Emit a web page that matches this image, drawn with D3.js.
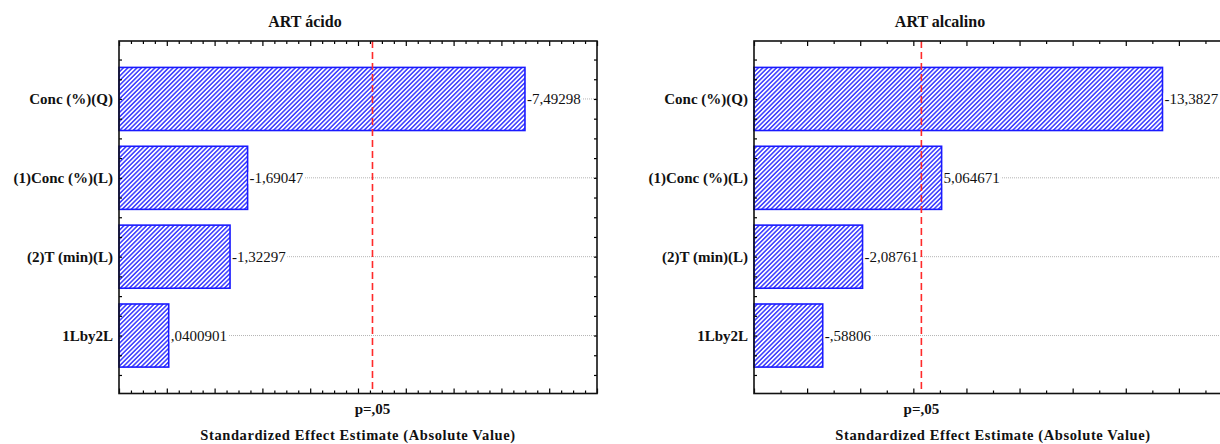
<!DOCTYPE html>
<html>
<head>
<meta charset="utf-8">
<script src="https://cdn.jsdelivr.net/npm/d3@7"></script>
<style>
  html, body { margin: 0; padding: 0; background: #fff; }
  svg { display: block; font-family: "Liberation Serif", "Times New Roman", serif; }
</style>
</head>
<body>
<svg id="chart" width="1220" height="444"></svg>
<script>
// Pareto charts of standardized effects (two response models)
const effects = ["Conc (%)(Q)", "(1)Conc (%)(L)", "(2)T (min)(L)", "1Lby2L"];
const acidValues = [-7.49298, -1.69047, -1.32297, 0.0400901];
const alkValues = [-13.3827, 5.064671, -2.08761, -0.58806];
const panelTitles = ["ART ácido", "ART alcalino"];
const critT = 4.303;           // t critical value, p = .05
const critLabel = "p=,05";
const xLabel = "Standardized Effect Estimate (Absolute Value)";
const acidDomain = [-1, 9];
const alkDomain = [-2, 16];
const acidTicks = { major: 1, minor: 0.25 };
const alkTicks = { major: 2, minor: 1 };

const svg = d3.select("#chart");

// pattern for hatched bars
const defs = svg.append("defs");
const pat = defs.append("pattern")
  .attr("id", "hatch")
  .attr("patternUnits", "userSpaceOnUse")
  .attr("width", 3.2).attr("height", 3.2)
  .attr("patternTransform", "rotate(45)");
pat.append("rect").attr("width", 3.2).attr("height", 3.2).attr("fill", "#fff");
pat.append("line").attr("x1", 0.8).attr("y1", 0).attr("x2", 0.8).attr("y2", 3.2)
  .attr("stroke", "#1a1aff").attr("stroke-width", 1.3);

// comma decimal, no leading zero
function fmt(v) {
  return String(v).replace(/^(-?)0\./, "$1.").replace(".", ",");
}

function rangeSteps(lo, hi, step) {
  const out = [];
  const n = Math.round((hi - lo) / step);
  for (let i = 0; i <= n; i++) out.push(+(lo + i * step).toFixed(6));
  return out;
}

function drawPanel(offsetX, title, values, domain, tickCfg) {
  const left = 119, right = 597, top = 41, bottom = 393.5;
  const g = svg.append("g").attr("transform", `translate(${offsetX},0)`);

  const x = d3.scaleLinear().domain(domain).range([left, right]);
  const pad = 0.735;
  const y = d3.scaleLinear().domain([1 - pad, effects.length + pad]).range([top, bottom]);
  const barH = y(1.8) - y(1);

  // horizontal dotted grid at each effect
  g.append("g").selectAll("line").data(effects).join("line")
    .attr("x1", left).attr("x2", right)
    .attr("y1", (d, i) => y(i + 1)).attr("y2", (d, i) => y(i + 1))
    .attr("stroke", "#b4b4b4").attr("stroke-width", 1)
    .attr("stroke-dasharray", "1,1");

  // bars (absolute effects) from the axis origin
  g.append("g").selectAll("rect").data(values).join("rect")
    .attr("x", x(domain[0]))
    .attr("y", (d, i) => y(i + 1) - barH / 2)
    .attr("width", d => x(Math.abs(d)) - x(domain[0]))
    .attr("height", barH)
    .attr("fill", "url(#hatch)")
    .attr("stroke", "#1a1aff").attr("stroke-width", 1.6);

  // value labels with white backing over the grid
  const vl = g.append("g").selectAll("g").data(values).join("g")
    .attr("transform", (d, i) => `translate(${x(Math.abs(d)) + 2},${y(i + 1)})`);
  vl.append("text")
    .attr("dy", "0.35em")
    .attr("font-size", 15)
    .attr("fill", "#111")
    .text(d => fmt(d));
  vl.each(function () {
    const t = d3.select(this).select("text").node();
    const b = t.getBBox();
    d3.select(this).insert("rect", "text")
      .attr("x", b.x - 1).attr("y", b.y + 2).attr("width", b.width + 2).attr("height", b.height - 4)
      .attr("fill", "#fff");
  });

  // significance line
  g.append("line")
    .attr("x1", x(critT)).attr("x2", x(critT))
    .attr("y1", top).attr("y2", bottom)
    .attr("stroke", "#ff2a2a").attr("stroke-width", 1.6)
    .attr("stroke-dasharray", "7,4");

  // inward ticks on all four sides
  const majors = rangeSteps(domain[0], domain[1], tickCfg.major);
  const minors = rangeSteps(domain[0], domain[1], tickCfg.minor).filter(v => !majors.some(m => Math.abs(m - v) < 1e-6));
  const tickStyle = sel => {
    sel.select(".domain").remove();
    sel.selectAll(".tick line").attr("stroke", "#000").attr("stroke-width", 1.2);
    sel.selectAll(".tick text").remove();
  };
  g.append("g").attr("transform", `translate(0,${bottom})`)
    .call(d3.axisBottom(x).tickValues(majors).tickSize(-5).tickFormat("")).call(tickStyle);
  g.append("g").attr("transform", `translate(0,${bottom})`)
    .call(d3.axisBottom(x).tickValues(minors).tickSize(-3).tickFormat("")).call(tickStyle);
  g.append("g").attr("transform", `translate(0,${top})`)
    .call(d3.axisTop(x).tickValues(majors).tickSize(-5).tickFormat("")).call(tickStyle);
  g.append("g").attr("transform", `translate(0,${top})`)
    .call(d3.axisTop(x).tickValues(minors).tickSize(-3).tickFormat("")).call(tickStyle);

  const yTicks = rangeSteps(0.5, effects.length + 0.5, 0.25);
  g.append("g").attr("transform", `translate(${left},0)`)
    .call(d3.axisLeft(y).tickValues(yTicks).tickSize(-3).tickFormat("")).call(tickStyle);
  g.append("g").attr("transform", `translate(${right},0)`)
    .call(d3.axisRight(y).tickValues(yTicks).tickSize(-3).tickFormat("")).call(tickStyle);

  // frame
  g.append("rect")
    .attr("x", left).attr("y", top).attr("width", right - left).attr("height", bottom - top)
    .attr("fill", "none").attr("stroke", "#111").attr("stroke-width", 1.6);

  // effect names
  g.append("g").selectAll("text").data(effects).join("text")
    .attr("x", left - 6).attr("y", (d, i) => y(i + 1))
    .attr("dy", "0.35em")
    .attr("text-anchor", "end")
    .attr("font-size", 15).attr("font-weight", "bold")
    .attr("fill", "#111")
    .text(d => d);

  // title
  g.append("text")
    .attr("x", left + 186).attr("y", 26.5)
    .attr("text-anchor", "middle")
    .attr("font-size", 16).attr("font-weight", "bold")
    .attr("fill", "#111")
    .text(title);

  // critical value label
  g.append("text")
    .attr("x", x(critT)).attr("y", 413.5)
    .attr("text-anchor", "middle")
    .attr("font-size", 15).attr("font-weight", "bold")
    .attr("fill", "#111")
    .text(critLabel);

  // x axis title
  g.append("text")
    .attr("x", (left + right) / 2).attr("y", 440)
    .attr("text-anchor", "middle")
    .attr("font-size", 14.5).attr("font-weight", "bold")
    .attr("letter-spacing", 0.6)
    .attr("fill", "#111")
    .text(xLabel);
}

drawPanel(0, panelTitles[0], acidValues, acidDomain, acidTicks);
drawPanel(635, panelTitles[1], alkValues, alkDomain, alkTicks);
</script>
</body>
</html>
